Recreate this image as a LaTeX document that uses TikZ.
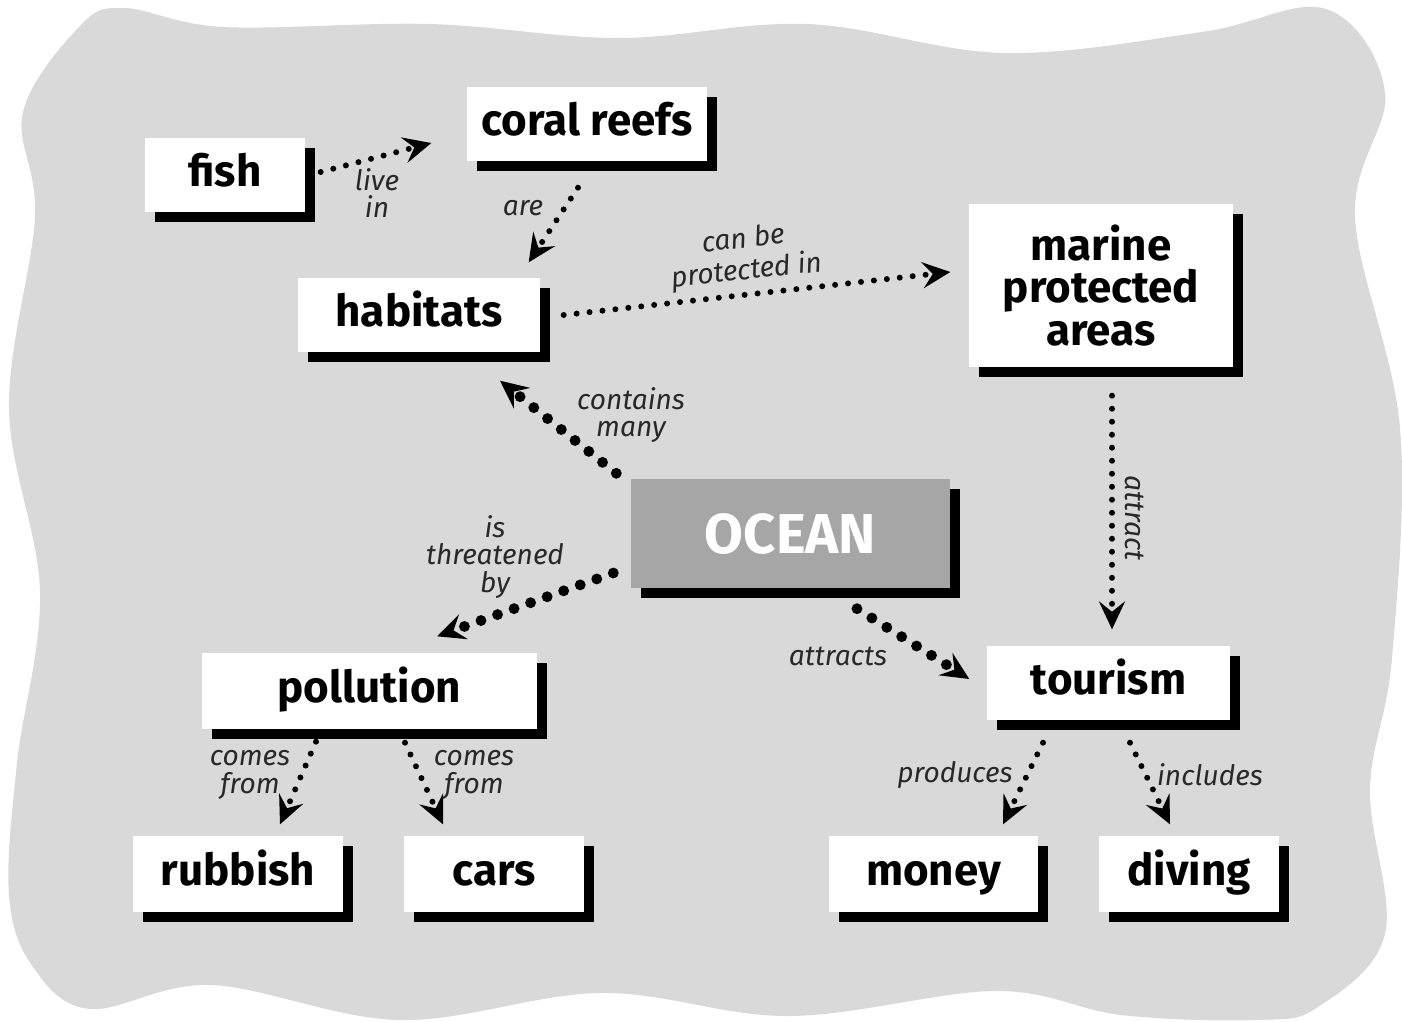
\documentclass[tikz,border=0pt]{standalone}
\usepackage{fontspec}
\setmainfont{Fira Sans}
\newfontfamily\labelfont{Fira Sans}
\usetikzlibrary{arrows.meta,shadows}
\definecolor{bggray}{RGB}{217,217,217}
\definecolor{oceangray}{RGB}{166,166,166}
\definecolor{labelgray}{RGB}{40,40,40}

\begin{document}
\begin{tikzpicture}[
  concept/.style={fill=white, inner sep=0pt, align=center,
    font=\bfseries\fontsize{12.5}{12.2}\selectfont,
    drop shadow={shadow xshift=0.1cm, shadow yshift=-0.1cm, fill=black, opacity=1}},
  oneline/.style={text height=9pt, text depth=2.5pt},
  linklabel/.style={font=\labelfont\itshape\fontsize{8}{7.8}\selectfont,
    text=labelgray, align=center, inner sep=0pt},
  linktip/.style={-{Stealth[length=8pt,width=7.5pt,inset=3pt,line width=0.4pt]}},
  thinlink/.style={linktip, line width=1.7pt, line cap=round, dash pattern=on 0pt off 3.7pt},
  thicklink/.style={linktip, line width=3.1pt, line cap=round, dash pattern=on 0pt off 5pt}
]
\useasboundingbox (0,0) rectangle (14.02,-10.21);

% wavy background
\fill[bggray] plot[smooth cycle, tension=0.6] coordinates {
  (1.24,-0.08) (2.24,-0.27) (4.30,-0.24) (6.19,-0.38) (8.07,-0.24)
  (10.04,-0.53) (12.02,-0.32) (13.26,-0.09) (13.85,-0.92) (13.55,-2.17)
  (14.00,-4.28) (13.92,-6.58) (13.70,-7.89) (13.85,-9.34) (13.18,-10.07)
  (12.56,-10.20) (11.21,-10.15) (9.96,-9.91) (7.89,-10.16) (6.01,-9.93)
  (4.00,-10.20) (2.11,-9.85) (0.90,-10.09) (0.33,-9.67) (0.09,-8.95)
  (0.17,-7.63) (0.40,-5.92) (0.09,-4.08) (0.35,-2.17) (0.23,-1.12)
  (0.80,-0.26)};

% concepts
\node[concept, oneline, minimum width=1.60cm, minimum height=0.74cm] (fish) at (2.25,-1.75) {fish};
\node[concept, oneline, minimum width=2.40cm, minimum height=0.74cm] (coral) at (5.87,-1.24) {coral reefs};
\node[concept, oneline, minimum width=2.42cm, minimum height=0.74cm] (habitats) at (4.19,-3.15) {habitats};
\node[concept, minimum width=2.64cm, minimum height=1.63cm] (mpa) at (11.01,-2.855) {marine\\protected\\areas};
\node[concept, minimum width=3.19cm, minimum height=1.09cm, fill=oceangray, text=white,
  font=\bfseries\fontsize{16}{16}\selectfont] (ocean) at (7.905,-5.335) {OCEAN};
\node[concept, oneline, minimum width=3.35cm, minimum height=0.76cm] (pollution) at (3.695,-6.91) {pollution};
\node[concept, oneline, minimum width=2.10cm, minimum height=0.76cm] (rubbish) at (2.38,-8.74) {rubbish};
\node[concept, oneline, minimum width=1.80cm, minimum height=0.76cm] (cars) at (4.94,-8.74) {cars};
\node[concept, oneline, minimum width=2.43cm, minimum height=0.74cm] (tourism) at (11.085,-6.83) {tourism};
\node[concept, oneline, minimum width=2.09cm, minimum height=0.76cm] (money) at (9.335,-8.74) {money};
\node[concept, oneline, minimum width=1.80cm, minimum height=0.76cm] (diving) at (11.89,-8.74) {diving};

% links
\draw[thinlink] ([xshift=0.15cm,yshift=0.03cm]fish.east) -- ([xshift=-0.35cm,yshift=-0.19cm]coral.west);
\draw[thinlink] ([xshift=-0.09cm,yshift=-0.26cm]coral.south) -- ([xshift=-0.12cm,yshift=0.15cm]habitats.north east);
\draw[thinlink] ([xshift=0.23cm]habitats.east) -- ([xshift=-0.18cm,yshift=0.135cm]mpa.west);
\draw[thicklink] ([xshift=-0.14cm,yshift=0.05cm]ocean.north west) -- ([xshift=0.81cm,yshift=-0.28cm]habitats.south);
\draw[thicklink] ([xshift=-0.17cm,yshift=-0.395cm]ocean.west) -- ([xshift=0.675cm,yshift=0.16cm]pollution.north);
\draw[thicklink] ([xshift=0.665cm,yshift=-0.2cm]ocean.south) -- ([xshift=-0.17cm,yshift=0.04cm]tourism.west);
\draw[thinlink] ([xshift=0.11cm,yshift=-0.28cm]mpa.south) -- ([xshift=0.035cm,yshift=0.16cm]tourism.north);
\draw[thinlink] ([xshift=-0.535cm,yshift=-0.12cm]pollution.south) -- ([xshift=0.42cm,yshift=0.11cm]rubbish.north);
\draw[thinlink] ([xshift=0.355cm,yshift=-0.13cm]pollution.south) -- ([xshift=-0.51cm,yshift=0.11cm]cars.north);
\draw[thinlink] ([xshift=-0.655cm,yshift=-0.22cm]tourism.south) -- ([xshift=0.695cm,yshift=0.11cm]money.north);
\draw[thinlink] ([xshift=0.215cm,yshift=-0.22cm]tourism.south) -- ([xshift=-0.19cm,yshift=0.11cm]diving.north);

% link labels
\node[linklabel] (livein) at (3.77,-1.93) {live\\in};
\node[linklabel] (are) at (5.23,-2.08) {are};
\node[linklabel, rotate=6, font=\labelfont\itshape\fontsize{8}{9}\selectfont] (protectedin) at (7.45,-2.56) {can be\\protected in};
\node[linklabel] (contains) at (6.31,-4.15) {contains\\many};
\node[linklabel] (threatened) at (4.95,-5.57) {is\\threatened\\by};
\node[linklabel] (attracts) at (8.38,-6.56) {attracts};
\node[linklabel, rotate=-90] (attract) at (11.35,-5.18) {attract};
\node[linklabel] (comesa) at (2.50,-7.75) {comes\\from};
\node[linklabel] (comesb) at (4.74,-7.75) {comes\\from};
\node[linklabel] (produces) at (9.55,-7.75) {produces};
\node[linklabel] (includes) at (12.10,-7.75) {includes};

\end{tikzpicture}
\end{document}
